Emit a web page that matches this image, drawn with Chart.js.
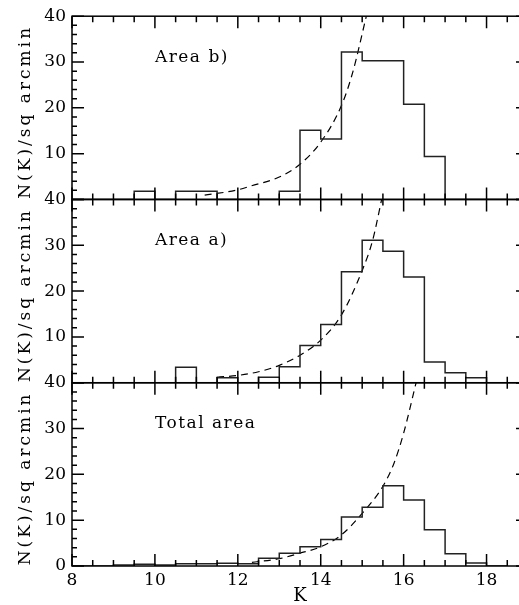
<!DOCTYPE html>
<html>
<head>
<meta charset="utf-8">
<script src="https://cdn.jsdelivr.net/npm/chart.js@4.4.1/dist/chart.umd.min.js"></script>
<style>
  html, body { margin: 0; padding: 0; background: #fff; }
  #wrap { width: 519px; height: 605px; overflow: hidden; }
</style>
</head>
<body>
<div id="wrap"><canvas id="chart" width="530" height="605"></canvas></div>
<script>
// left edges of the 0.5 mag K bins
const binStart = [8, 8.5, 9, 9.5, 10, 10.5, 11, 11.5, 12, 12.5, 13, 13.5, 14, 14.5, 15, 15.5, 16, 16.5, 17, 17.5, 18];

// N(K) per sq arcmin in each bin
const areaB     = [0, 0, 0, 1.8, 0, 1.8, 1.8, 0, 0, 0, 1.8, 15.1, 13.2, 32.2, 30.3, 30.3, 20.8, 9.4, 0, 0, 0];
const areaA     = [0, 0, 0, 0, 0, 3.4, 0, 1.1, 0, 1.2, 3.5, 8.1, 12.7, 24.2, 31.1, 28.7, 23.1, 4.5, 2.2, 1.1, 0];
const totalArea = [0, 0, 0.2, 0.4, 0.2, 0.5, 0.5, 0.6, 0.5, 1.7, 2.8, 4.2, 5.8, 10.7, 12.8, 17.5, 14.4, 7.9, 2.7, 0.66, 0];

// dashed model curves
const fitBK = [11.2, 12.0, 12.3, 13.0, 13.5, 14.0, 14.5, 14.77, 15.1];
const fitBN = [0.93, 2.1, 2.9, 4.9, 7.7, 12.5, 20.5, 27.7, 40];
const fitAK = [11.5, 12.0, 12.5, 13.0, 13.5, 14.0, 14.5, 15.0, 15.25, 15.47];
const fitAN = [1.2, 1.6, 2.4, 3.8, 6.0, 9.3, 14.8, 24.5, 31, 40];
const fitTK = [12.34, 13.0, 13.5, 14.0, 14.5, 15.0, 15.5, 15.77, 16.0, 16.3];
const fitTN = [0.8, 1.6, 2.8, 4.2, 6.8, 11.5, 17.4, 22.5, 29, 40];

const xTicks = [8, 10, 12, 14, 16, 18];
const yTicks = [0, 10, 20, 30, 40];
const panelNames = ['Area b)', 'Area a)', 'Total area'];
const panelAxes = ['yB', 'yA', 'yT'];
const yTitle = 'N(K)/sq arcmin';
const xTitle = 'K';

const FONT = 'DejaVu Serif';

function hist(vals, axis) {
  // last point closes the final bin
  const pts = binStart.map((k, i) => ({ x: k, y: vals[i] }));
  pts.push({ x: 18.5, y: 0 });
  return {
    data: pts,
    yAxisID: axis,
    stepped: 'before',
    borderColor: '#222',
    borderWidth: 1.5,
    pointRadius: 0,
    fill: false
  };
}

function fit(ks, ns, axis) {
  return {
    data: ks.map((k, i) => ({ x: k, y: ns[i] })),
    yAxisID: axis,
    borderColor: '#000',
    borderWidth: 1.2,
    borderDash: [7, 5],
    cubicInterpolationMode: 'monotone',
    pointRadius: 0,
    fill: false
  };
}

function yScale(showZero) {
  return {
    type: 'linear',
    position: 'left',
    stack: 'panels',
    stackWeight: 1,
    min: 0,
    max: 40,
    afterFit: s => { s.width = 72; },
    afterBuildTicks: s => { s.ticks = yTicks.map(v => ({ value: v })); },
    grid: { display: false, drawTicks: false, tickLength: 0 },
    border: { display: false },
    ticks: {
      color: '#000',
      padding: 6,
      autoSkip: false,
      font: { family: FONT, size: 17 },
      callback: v => (v === 0 && !showZero) ? '' : String(v)
    }
  };
}

// panel frames, inward ticks, titles and panel names
const framePlugin = {
  id: 'frame',
  afterDraw(chart) {
    const ctx = chart.ctx;
    const xs = chart.scales.x;
    ctx.save();
    ctx.strokeStyle = '#000';
    ctx.lineWidth = 1.5;
    panelAxes.forEach((id, p) => {
      const ys = chart.scales[id];
      const top = ys.getPixelForValue(40);
      const bot = ys.getPixelForValue(0);
      ctx.strokeRect(xs.left, top, xs.right - xs.left, bot - top);
      ctx.beginPath();
      for (let k = 8; k <= 19; k += 0.5) {
        const px = xs.getPixelForValue(k);
        const len = (k % 2 === 0) ? 12 : 6;
        ctx.moveTo(px, bot); ctx.lineTo(px, bot - len);
        ctx.moveTo(px, top); ctx.lineTo(px, top + len);
      }
      for (let v = 0; v <= 40; v += 2) {
        const py = ys.getPixelForValue(v);
        const len = (v % 10 === 0) ? 12 : 5;
        ctx.moveTo(xs.left, py); ctx.lineTo(xs.left + len, py);
        ctx.moveTo(xs.right, py); ctx.lineTo(xs.right - len, py);
      }
      ctx.stroke();

      ctx.fillStyle = '#000';
      ctx.font = '17px "' + FONT + '"';
      ctx.letterSpacing = '1.5px';
      ctx.textBaseline = 'middle';
      ctx.textAlign = 'left';
      ctx.fillText(panelNames[p], xs.getPixelForValue(10), ys.getPixelForValue(31));

      // rotated axis title for this panel
      ctx.save();
      ctx.letterSpacing = '3px';
      ctx.translate(26, (top + bot) / 2 + 4);
      ctx.rotate(-Math.PI / 2);
      ctx.textAlign = 'center';
      ctx.fillText(yTitle, 0, 0);
      ctx.restore();
    });
    ctx.letterSpacing = '0px';
    ctx.textAlign = 'center';
    ctx.textBaseline = 'middle';
    ctx.font = '18px "' + FONT + '"';
    ctx.fillText(xTitle, (xs.left + xs.right) / 2, 596);
    ctx.restore();
  }
};

new Chart(document.getElementById('chart'), {
  type: 'line',
  data: {
    datasets: [
      hist(areaB, 'yB'), fit(fitBK, fitBN, 'yB'),
      hist(areaA, 'yA'), fit(fitAK, fitAN, 'yA'),
      hist(totalArea, 'yT'), fit(fitTK, fitTN, 'yT')
    ]
  },
  options: {
    responsive: false,
    animation: false,
    layout: { padding: { top: 15, right: 2, bottom: 0, left: 0 } },
    plugins: { legend: { display: false }, tooltip: { enabled: false } },
    scales: {
      yT: yScale(true),
      yA: yScale(false),
      yB: yScale(false),
      x: {
        type: 'linear',
        min: 8,
        max: 19,
        afterFit: s => { s.height = 39; },
        afterBuildTicks: s => { s.ticks = xTicks.map(v => ({ value: v })); },
        grid: { display: false, drawTicks: false, tickLength: 0 },
        border: { display: false },
        ticks: { color: '#000', padding: 4, maxRotation: 0, autoSkip: false, font: { family: FONT, size: 17 } }
      }
    }
  },
  plugins: [framePlugin]
});
</script>
</body>
</html>
